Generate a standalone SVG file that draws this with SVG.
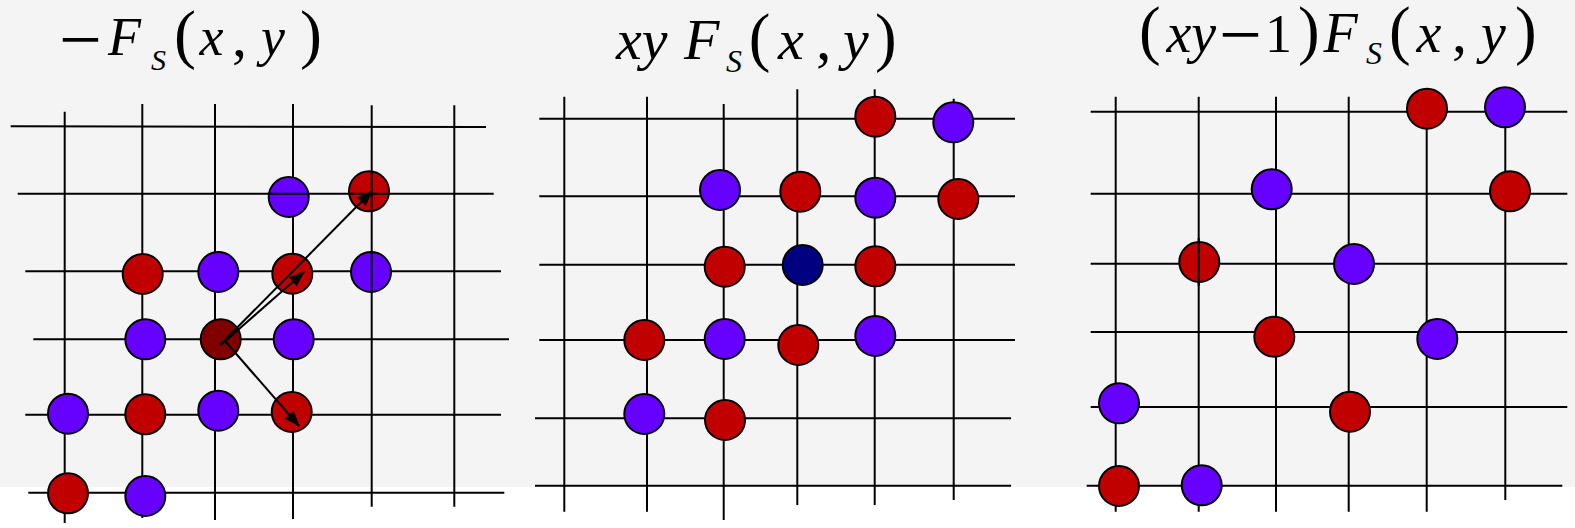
<svg xmlns="http://www.w3.org/2000/svg" width="1575" height="528" viewBox="0 0 1575 528">
<style>
.g line{stroke:#000;stroke-width:2}
.r{fill:#c00000;stroke:#000;stroke-width:2}
.b{fill:#6600ff;stroke:#000;stroke-width:2}
.dr{fill:#800000;stroke:#000;stroke-width:2}
.nv{fill:#000080;stroke:#000;stroke-width:2}
.arr{stroke:#000;stroke-width:2;fill:none;marker-end:url(#ah)}
</style>
<defs>
<marker id="ah" markerUnits="userSpaceOnUse" markerWidth="16" markerHeight="12" refX="15" refY="6" orient="auto">
<path d="M0,0 L16,6 L0,12 z" fill="#000"/>
</marker>
</defs>
<rect x="0" y="0" width="1575" height="487" fill="#f4f4f4"/>

<g id="titles" font-family="'Liberation Serif', 'Times New Roman', serif" fill="#000">
<text id="title1" font-size="54"><tspan font-size="76" x="59" y="65">−</tspan><tspan font-style="italic" font-size="54" x="108" y="55">F</tspan><tspan font-style="italic" font-size="30" x="151" y="70">S</tspan><tspan font-size="66" x="174" y="56">(</tspan><tspan font-style="italic" font-size="54" x="199.5" y="55">x</tspan><tspan font-size="60" x="232" y="56">,</tspan><tspan font-style="italic" font-size="54" x="261" y="55">y</tspan><tspan font-size="66" x="300" y="56">)</tspan></text>
<text id="title2" font-size="58"><tspan font-style="italic" x="616" y="59">xy</tspan><tspan font-style="italic" x="684" y="59">F</tspan><tspan font-style="italic" font-size="32" x="726" y="72">S</tspan><tspan font-size="65" x="748.7" y="58.6">(</tspan><tspan font-style="italic" x="778" y="59">x</tspan><tspan font-size="62" x="816" y="59">,</tspan><tspan font-style="italic" x="843" y="59">y</tspan><tspan font-size="65" x="875" y="58.6">)</tspan></text>
<text id="title3" font-size="56"><tspan font-size="65" x="1139" y="52">(</tspan><tspan font-style="italic" font-size="56" x="1166.5" y="51.5">xy</tspan><tspan font-size="76" x="1219" y="60">−</tspan><tspan font-size="54" x="1265" y="51.5">1</tspan><tspan font-size="65" x="1298" y="52">)</tspan><tspan font-style="italic" font-size="56" x="1323.5" y="51.5">F</tspan><tspan font-style="italic" font-size="32" x="1366" y="63.5">S</tspan><tspan font-size="65" x="1389" y="52">(</tspan><tspan font-style="italic" font-size="56" x="1416.5" y="51.5">x</tspan><tspan font-size="60" x="1452" y="51.5">,</tspan><tspan font-style="italic" font-size="56" x="1481" y="51.5">y</tspan><tspan font-size="65" x="1515" y="52">)</tspan></text>
</g>

<g id="grid" class="g">
<line x1="10.7" y1="126.3" x2="486" y2="127"/>
<line x1="25.3" y1="271.3" x2="501" y2="271.3"/>
<line x1="33.3" y1="339.3" x2="509" y2="339.3"/>
<line x1="25.3" y1="414.7" x2="501" y2="414.7"/>
<line x1="28.3" y1="492.7" x2="504.3" y2="492.7"/>
<line x1="64.7" y1="111.7" x2="64.7" y2="523"/>
<line x1="142.3" y1="104" x2="142.3" y2="518"/>
<line x1="215" y1="104" x2="215" y2="520"/>
<line x1="293" y1="104" x2="293" y2="519"/>
<line x1="454.3" y1="105.3" x2="454.3" y2="506.7"/>
<line x1="539.3" y1="118.7" x2="1015" y2="118.7"/>
<line x1="539.3" y1="196.3" x2="1015" y2="196.3"/>
<line x1="539.3" y1="264.7" x2="1015" y2="264.7"/>
<line x1="539.3" y1="340" x2="1015" y2="340"/>
<line x1="535" y1="418.3" x2="1011" y2="418.3"/>
<line x1="535" y1="485.7" x2="1011" y2="485.7"/>
<line x1="564.3" y1="96.7" x2="564.3" y2="511.7"/>
<line x1="647" y1="96.7" x2="647" y2="511.7"/>
<line x1="723.7" y1="104" x2="723.7" y2="520"/>
<line x1="797.3" y1="89.3" x2="797.3" y2="505"/>
<line x1="874.7" y1="89.3" x2="874.7" y2="505"/>
<line x1="953.7" y1="98.7" x2="953.7" y2="500"/>
<line x1="1090.7" y1="111.7" x2="1567.3" y2="111.7"/>
<line x1="1090.7" y1="193.7" x2="1567.3" y2="193.7"/>
<line x1="1090.7" y1="263.7" x2="1567.3" y2="263.7"/>
<line x1="1090.7" y1="332" x2="1567.3" y2="332"/>
<line x1="1090.7" y1="407" x2="1567.3" y2="407"/>
<line x1="1086.7" y1="485.7" x2="1562.3" y2="485.7"/>
<line x1="1115.7" y1="96.7" x2="1115.7" y2="511.7"/>
<line x1="1198.7" y1="96.7" x2="1198.7" y2="511.7"/>
<line x1="1276" y1="96.7" x2="1276" y2="511.7"/>
<line x1="1348.7" y1="96.7" x2="1348.7" y2="511.7"/>
<line x1="1426.7" y1="96.7" x2="1426.7" y2="511.7"/>
<line x1="1505.3" y1="96.7" x2="1505.3" y2="500"/>
</g>

<g id="p1n1"><circle class="b" cx="288.7" cy="197" r="20"/></g>
<g id="p1n2"><circle class="r" cx="369" cy="191.3" r="20"/></g>
<g id="p1n3"><circle class="r" cx="142.7" cy="274" r="20"/></g>
<g id="p1n4"><circle class="b" cx="218.3" cy="272" r="20"/></g>
<g id="p1n5"><circle class="r" cx="292.3" cy="273.7" r="20"/></g>
<g id="p1n6"><circle class="b" cx="371" cy="272" r="20"/></g>
<g id="p1n7"><circle class="b" cx="145.3" cy="339.3" r="20"/></g>
<g id="p1n8"><circle class="dr" cx="220.7" cy="339.3" r="20"/></g>
<g id="p1n9"><circle class="b" cx="293.7" cy="339.3" r="20"/></g>
<g id="p1n10"><circle class="b" cx="68" cy="413.7" r="20"/></g>
<g id="p1n11"><circle class="r" cx="145.3" cy="414.3" r="20"/></g>
<g id="p1n12"><circle class="b" cx="218.3" cy="410.7" r="20"/></g>
<g id="p1n13"><circle class="r" cx="291.7" cy="412" r="20"/></g>
<g id="p1n14"><circle class="r" cx="68" cy="493.3" r="20"/></g>
<g id="p1n15"><circle class="b" cx="145.3" cy="496" r="20"/></g>

<g id="p2n1"><circle class="r" cx="875.3" cy="116.7" r="20"/></g>
<g id="p2n2"><circle class="b" cx="953.3" cy="122.3" r="20"/></g>
<g id="p2n3"><circle class="b" cx="720" cy="190" r="20"/></g>
<g id="p2n4"><circle class="r" cx="800.3" cy="191.7" r="20"/></g>
<g id="p2n5"><circle class="b" cx="875.3" cy="197.7" r="20"/></g>
<g id="p2n6"><circle class="r" cx="958.3" cy="199" r="20"/></g>
<g id="p2n7"><circle class="r" cx="724.7" cy="266.7" r="20"/></g>
<g id="p2n8"><circle class="nv" cx="802.7" cy="265" r="20"/></g>
<g id="p2n9"><circle class="r" cx="875.3" cy="266.3" r="20"/></g>
<g id="p2n10"><circle class="r" cx="644.3" cy="340" r="20"/></g>
<g id="p2n11"><circle class="b" cx="724.7" cy="339" r="20"/></g>
<g id="p2n12"><circle class="r" cx="798.3" cy="345" r="20"/></g>
<g id="p2n13"><circle class="b" cx="875.3" cy="336" r="20"/></g>
<g id="p2n14"><circle class="b" cx="644.3" cy="414" r="20"/></g>
<g id="p2n15"><circle class="r" cx="725" cy="420" r="20"/></g>

<g id="p3n1"><circle class="r" cx="1427" cy="108.7" r="20"/></g>
<g id="p3n2"><circle class="b" cx="1505" cy="107.3" r="20"/></g>
<g id="p3n3"><circle class="b" cx="1271.7" cy="189.3" r="20"/></g>
<g id="p3n4"><circle class="r" cx="1510" cy="191.3" r="20"/></g>
<g id="p3n5"><circle class="r" cx="1199.3" cy="262" r="20"/></g>
<g id="p3n6"><circle class="b" cx="1354" cy="264" r="20"/></g>
<g id="p3n7"><circle class="r" cx="1274.3" cy="336.7" r="20"/></g>
<g id="p3n8"><circle class="b" cx="1437.3" cy="339" r="20"/></g>
<g id="p3n9"><circle class="b" cx="1119" cy="403.3" r="20"/></g>
<g id="p3n10"><circle class="r" cx="1350" cy="411.7" r="20"/></g>
<g id="p3n11"><circle class="r" cx="1119" cy="486" r="20"/></g>
<g id="p3n12"><circle class="b" cx="1201.7" cy="485.3" r="20"/></g>

<g id="grid-over" class="g">
<line x1="17.7" y1="193.7" x2="493.7" y2="193.7"/>
<line x1="371.7" y1="105.3" x2="371.7" y2="506.7"/>
<line x1="1198.7" y1="238" x2="1198.7" y2="286"/>
</g>

<g id="connectors">
<line class="arr" x1="220" y1="345" x2="372" y2="191"/>
<line class="arr" x1="222" y1="344" x2="304" y2="272"/>
<line class="arr" x1="225" y1="341" x2="299" y2="426"/>
</g>
</svg>
